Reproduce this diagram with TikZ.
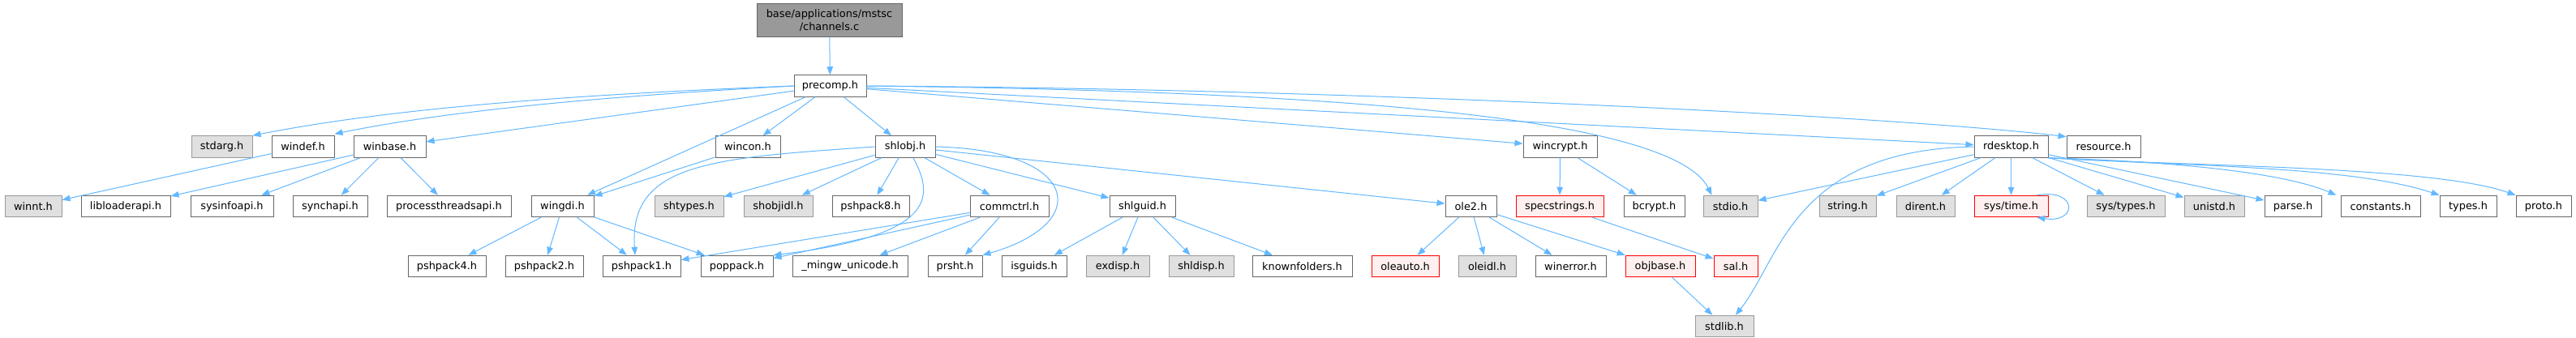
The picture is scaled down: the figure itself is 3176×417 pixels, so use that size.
\documentclass[tikz,border=0pt]{standalone}
\usepackage{fontspec}
\setmainfont{DejaVu Sans}
\usetikzlibrary{arrows.meta}
\definecolor{edgeblue}{HTML}{63B8FF}
\definecolor{boxgray}{HTML}{666666}
\definecolor{sysdraw}{HTML}{999999}
\definecolor{sysfill}{HTML}{E0E0E0}
\definecolor{missfill}{HTML}{FFF0F0}
\definecolor{headfill}{HTML}{999999}
\tikzset{
    box/.style={draw, line width=1pt, inner sep=0pt, minimum height=26.5pt, font=\fontsize{12.9}{16}\selectfont},
    file/.style={box, draw=boxgray, fill=white},
    sysfile/.style={box, draw=sysdraw, fill=sysfill},
    missing/.style={box, draw=red, fill=missfill},
    headfile/.style={box, draw=boxgray, fill=headfill, align=center},
    edge/.style={draw=edgeblue, line width=1pt, -{Triangle[length=10pt,width=7.5pt]}}
}
\begin{document}
\begin{tikzpicture}[x=1pt,y=-1pt]
    \useasboundingbox[fill=white] (0,0) rectangle (3176,417);
    \node[headfile][minimum width=179pt, minimum height=41pt] (channels) at (1022.5,25.5) {base/applications/mstsc\\/channels.c};
    \node[file][minimum width=89pt] (precomp) at (1023.5,106) {precomp.h};
    \node[sysfile][minimum width=75pt] (stdarg) at (273.5,181) {stdarg.h};
    \node[file][minimum width=77pt] (windef) at (373.5,181) {windef.h};
    \node[file][minimum width=89pt] (winbase) at (480.5,181) {winbase.h};
    \node[file][minimum width=80pt] (wincon) at (922,181) {wincon.h};
    \node[file][minimum width=74pt] (shlobj) at (1116,181) {shlobj.h};
    \node[file][minimum width=91pt] (wincrypt) at (1923.5,181) {wincrypt.h};
    \node[file][minimum width=91pt] (rdesktop) at (2479.5,181) {rdesktop.h};
    \node[file][minimum width=91pt] (resource) at (2593.5,181) {resource.h};
    \node[sysfile][minimum width=70pt] (winnt) at (41,254.5) {winnt.h};
    \node[file][minimum width=110pt] (libloaderapi) at (155,254.5) {libloaderapi.h};
    \node[file][minimum width=102pt] (sysinfoapi) at (286,254.5) {sysinfoapi.h};
    \node[file][minimum width=92pt] (synchapi) at (407,254.5) {synchapi.h};
    \node[file][minimum width=153pt] (processthreadsapi) at (553.5,254.5) {processthreadsapi.h};
    \node[file][minimum width=77pt] (wingdi) at (693.5,254.5) {wingdi.h};
    \node[sysfile][minimum width=85pt] (shtypes) at (849.5,254.5) {shtypes.h};
    \node[sysfile][minimum width=85pt] (shobjidl) at (959.5,254.5) {shobjidl.h};
    \node[file][minimum width=95pt] (pshpack8) at (1073.5,254.5) {pshpack8.h};
    \node[file][minimum width=97pt] (commctrl) at (1244.5,254.5) {commctrl.h};
    \node[file][minimum width=81pt] (shlguid) at (1408.5,254.5) {shlguid.h};
    \node[file][minimum width=63pt] (ole2) at (1813.5,254.5) {ole2.h};
    \node[missing][minimum width=108pt] (specstrings) at (1923,254.5) {specstrings.h};
    \node[file][minimum width=75pt] (bcrypt) at (2039.5,254.5) {bcrypt.h};
    \node[sysfile][minimum width=67pt] (stdio) at (2133.5,254.5) {stdio.h};
    \node[sysfile][minimum width=70pt] (string) at (2278,254.5) {string.h};
    \node[sysfile][minimum width=72pt] (dirent) at (2374,254.5) {dirent.h};
    \node[missing][minimum width=91pt] (systime) at (2479.5,254.5) {sys/time.h};
    \node[sysfile][minimum width=96pt] (systypes) at (2621,254.5) {sys/types.h};
    \node[sysfile][minimum width=74pt] (unistd) at (2730,254.5) {unistd.h};
    \node[file][minimum width=70pt] (parse) at (2827,254.5) {parse.h};
    \node[file][minimum width=98pt] (constants) at (2935,254.5) {constants.h};
    \node[file][minimum width=70pt] (types) at (3043,254.5) {types.h};
    \node[file][minimum width=68pt] (proto) at (3136,254.5) {proto.h};
    \node[file][minimum width=96pt] (pshpack4) at (551,328.5) {pshpack4.h};
    \node[file][minimum width=96pt] (pshpack2) at (671,328.5) {pshpack2.h};
    \node[file][minimum width=96pt] (pshpack1) at (791,328.5) {pshpack1.h};
    \node[file][minimum width=89pt] (poppack) at (908.5,328.5) {poppack.h};
    \node[file][minimum width=142pt] (mingwunicode) at (1048,328.5) {\_mingw\_unicode.h};
    \node[file][minimum width=67pt] (prsht) at (1177.5,328.5) {prsht.h};
    \node[file][minimum width=80pt] (isguids) at (1275,328.5) {isguids.h};
    \node[sysfile][minimum width=78pt] (exdisp) at (1378,328.5) {exdisp.h};
    \node[sysfile][minimum width=80pt] (shldisp) at (1481,328.5) {shldisp.h};
    \node[file][minimum width=123pt] (knownfolders) at (1605.5,328.5) {knownfolders.h};
    \node[missing][minimum width=83pt] (oleauto) at (1732.5,328.5) {oleauto.h};
    \node[sysfile][minimum width=71pt] (oleidl) at (1833.5,328.5) {oleidl.h};
    \node[file][minimum width=87pt] (winerror) at (1936.5,328.5) {winerror.h};
    \node[missing][minimum width=86pt] (objbase) at (2047,328.5) {objbase.h};
    \node[missing][minimum width=54pt] (sal) at (2140,328.5) {sal.h};
    \node[sysfile][minimum width=72pt] (stdlib) at (2126,402.5) {stdlib.h};
    \draw[edge] (channels) -- (precomp);
    \draw[edge] (precomp.west) .. controls (750,115) and (500,130) .. (stdarg.north east);
    \draw[edge] (precomp.west) .. controls (760,118) and (560,135) .. ([yshift=2pt]windef.north east);
    \draw[edge] (precomp) -- (winbase);
    \draw[edge] (precomp) -- (wingdi);
    \draw[edge] (precomp) -- (wincon);
    \draw[edge] (precomp) -- (shlobj);
    \draw[edge] (precomp) -- (wincrypt);
    \draw[edge] (precomp.east) .. controls (1600,112) and (2060,140) .. ([xshift=-23pt]stdio.north);
    \draw[edge] (precomp) -- (rdesktop);
    \draw[edge] (precomp.east) .. controls (1700,110) and (2350,145) .. (resource.165);
    \draw[edge] (windef) -- (winnt);
    \draw[edge] (winbase) -- (libloaderapi);
    \draw[edge] (winbase) -- (sysinfoapi);
    \draw[edge] (winbase) -- (synchapi);
    \draw[edge] (winbase) -- (processthreadsapi);
    \draw[edge] (wincon) -- (wingdi);
    \draw[edge] (wingdi) -- (pshpack4);
    \draw[edge] (wingdi) -- (pshpack2);
    \draw[edge] (wingdi) -- (pshpack1);
    \draw[edge] (wingdi) -- (poppack);
    \draw[edge] (shlobj.west) .. controls (880,195) and (775,200) .. ([xshift=-8pt]pshpack1.north);
    \draw[edge] (shlobj) -- (shtypes);
    \draw[edge] (shlobj) -- (shobjidl);
    \draw[edge] (shlobj) -- (pshpack8);
    \draw[edge] (shlobj) -- (commctrl);
    \draw[edge] ([xshift=10pt]shlobj.south) .. controls (1150,240) and (1160,290) .. (poppack.north east);
    \draw[edge] (shlobj.east) .. controls (1330,185) and (1350,275) .. (prsht.north east);
    \draw[edge] (shlobj) -- (shlguid);
    \draw[edge] (shlobj) -- (ole2);
    \draw[edge] (commctrl) -- (pshpack1);
    \draw[edge] (commctrl) -- (poppack);
    \draw[edge] (commctrl) -- (mingwunicode);
    \draw[edge] (commctrl) -- (prsht);
    \draw[edge] (shlguid) -- (isguids);
    \draw[edge] (shlguid) -- (exdisp);
    \draw[edge] (shlguid) -- (shldisp);
    \draw[edge] (shlguid) -- (knownfolders);
    \draw[edge] (ole2) -- (oleauto);
    \draw[edge] (ole2) -- (oleidl);
    \draw[edge] (ole2) -- (winerror);
    \draw[edge] (ole2) -- (objbase);
    \draw[edge] (wincrypt) -- (specstrings);
    \draw[edge] (wincrypt) -- (bcrypt);
    \draw[edge] (specstrings) -- (sal);
    \draw[edge] (objbase) -- (stdlib);
    \draw[edge] (rdesktop) -- (stdio);
    \draw[edge] (rdesktop) -- (string);
    \draw[edge] (rdesktop) -- (dirent);
    \draw[edge] (rdesktop) -- (systime);
    \draw[edge] (rdesktop) -- (systypes);
    \draw[edge] (rdesktop) -- (unistd);
    \draw[edge] (rdesktop) -- (parse);
    \draw[edge] (rdesktop.south east) .. controls (2700,200) and (2820,215) .. ([xshift=-5pt]constants.north west);
    \draw[edge] (rdesktop.south east) .. controls (2700,205) and (2900,205) .. (types.north west);
    \draw[edge] (rdesktop.south east) .. controls (2700,205) and (3000,205) .. (proto.north west);
    \draw[edge] (rdesktop.west) .. controls (2210,185) and (2195,320) .. (stdlib.45);
    \draw[edge] ([xshift=-14pt]systime.north east) .. controls (2562,232) and (2562,276) .. ([xshift=-14pt]systime.south east);
\end{tikzpicture}
\end{document}
